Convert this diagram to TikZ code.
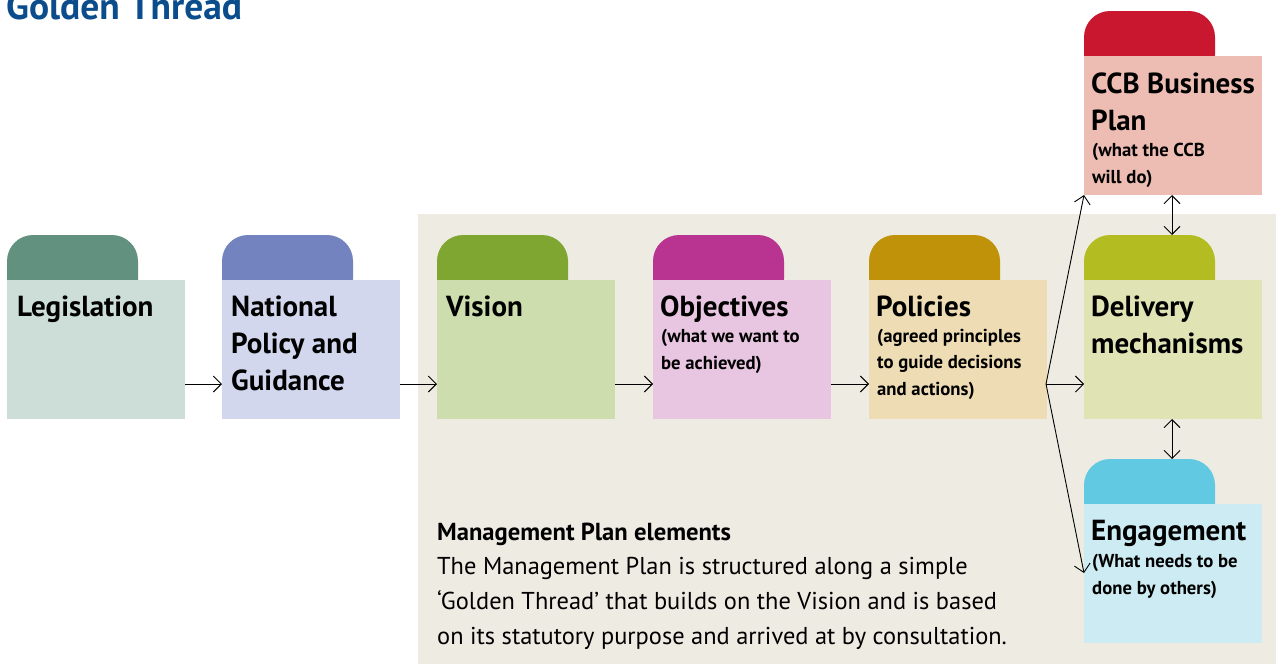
\documentclass[tikz,border=0pt]{standalone}
\usepackage{fontspec}
\setmainfont{PT Sans}
\usetikzlibrary{arrows.meta,calc}
\definecolor{bgpanel}{HTML}{EEEBE3}
\definecolor{titleblue}{HTML}{0B4D8C}
\definecolor{legT}{HTML}{62927F}\definecolor{legB}{HTML}{CDDED8}
\definecolor{natT}{HTML}{7283C0}\definecolor{natB}{HTML}{D3D7EE}
\definecolor{visT}{HTML}{7EA630}\definecolor{visB}{HTML}{CEDDAE}
\definecolor{objT}{HTML}{B93391}\definecolor{objB}{HTML}{E8C5E0}
\definecolor{polT}{HTML}{C09209}\definecolor{polB}{HTML}{EEDDB4}
\definecolor{delT}{HTML}{B3BC21}\definecolor{delB}{HTML}{E0E3B4}
\definecolor{ccbT}{HTML}{C8172F}\definecolor{ccbB}{HTML}{EDBDB3}
\definecolor{engT}{HTML}{62C9E2}\definecolor{engB}{HTML}{CCEBF2}
\tikzset{
  tabshape/.style={anchor=north west, minimum width=131pt, minimum height=70pt, rounded corners=26pt, inner sep=0pt, outer sep=0pt},
  bodyshape/.style={anchor=north west, minimum width=178pt, minimum height=139pt, inner sep=0pt, outer sep=0pt},
  bigtxt/.style={anchor=base west, align=left, inner sep=0pt, font=\fontsize{29}{37}\selectfont\bfseries},
  smalltxt/.style={anchor=base west, align=left, inner sep=0pt, font=\fontsize{18.7}{26.3}\selectfont\bfseries},
  arr/.style={-{Straight Barb[length=8pt,width=16pt]}, line width=0.9pt},
  darr/.style={{Straight Barb[length=8pt,width=16pt]}-{Straight Barb[length=8pt,width=16pt]}, line width=0.9pt},
}
\begin{document}
\begin{tikzpicture}[x=1pt,y=-1pt]
\useasboundingbox (0,0) rectangle (1276,664);
\fill[bgpanel] (418,214) rectangle (1276,664);
\node[anchor=base west, inner sep=0pt, text=titleblue, font=\fontsize{37.5}{37.5}\selectfont\bfseries] (title) at (6,19) {Golden Thread};

% tabs
\node[tabshape, fill=legT] (legtab) at (7,235) {};
\node[tabshape, fill=natT] (nattab) at (222,235) {};
\node[tabshape, fill=visT] (vistab) at (437,235) {};
\node[tabshape, fill=objT] (objtab) at (653,235) {};
\node[tabshape, fill=polT] (poltab) at (869,235) {};
\node[tabshape, fill=delT] (deltab) at (1084,235) {};
\node[tabshape, fill=ccbT] (ccbtab) at (1084,11) {};
\node[tabshape, fill=engT] (engtab) at (1084,459) {};
% bodies
\node[bodyshape, fill=legB] (leg) at (7,280) {};
\node[bodyshape, fill=natB] (nat) at (222,280) {};
\node[bodyshape, fill=visB] (vis) at (437,280) {};
\node[bodyshape, fill=objB] (obj) at (653,280) {};
\node[bodyshape, fill=polB] (pol) at (869,280) {};
\node[bodyshape, fill=delB] (del) at (1084,280) {};
\node[bodyshape, fill=ccbB] (ccb) at (1084,56) {};
\node[bodyshape, fill=engB] (eng) at (1084,504) {};

% texts (base anchor = baseline of the last line)
\node[bigtxt] (legtxt) at (17,316) {Legislation};
\node[bigtxt] (nattxt) at (231,390) {National\\Policy and\\Guidance};
\node[bigtxt] (vistxt) at (446,316) {Vision};
\node[bigtxt] (objtxt) at (660,316) {Objectives};
\node[smalltxt] (objsub) at (661,369) {(what we want to\\be achieved)};
\node[bigtxt] (poltxt) at (876,316) {Policies};
\node[smalltxt] (polsub) at (877,395) {(agreed principles\\to guide decisions\\and actions)};
\node[bigtxt] (deltxt) at (1091,353) {Delivery\\mechanisms};
\node[bigtxt] (ccbtxt) at (1091,130) {CCB Business\\Plan};
\node[smalltxt] (ccbsub) at (1092,183) {(what the CCB\\will do)};
\node[bigtxt] (engtxt) at (1091,540) {Engagement};
\node[smalltxt] (engsub) at (1092,594) {(What needs to be\\done by others)};

\node[anchor=base west, inner sep=0pt, font=\fontsize{24.6}{24.6}\selectfont\bfseries] (mphead) at (437,540) {Management Plan elements};
\node[anchor=base west, align=left, inner sep=0pt, font=\fontsize{24.4}{34.7}\selectfont] (mpbody) at (437,644) {The Management Plan is structured along a simple\\`Golden Thread' that builds on the Vision and is based\\on its statutory purpose and arrived at by consultation.};

% connectors
\coordinate (split) at (1046,384);
\draw[arr] (leg.east |- 0,384) -- (nat.west |- 0,384);
\draw[arr] (nat.east |- 0,384) -- (vis.west |- 0,384);
\draw[arr] (vis.east |- 0,384) -- (obj.west |- 0,384);
\draw[arr] (obj.east |- 0,384) -- (pol.west |- 0,384);
\draw[arr] (split) -- (del.west |- split);
\draw[arr] (split) -- (ccb.south west);
\draw[arr] (split) -- (1084,573);
\draw[darr] (ccb.south -| 1172,0) -- (deltab.north -| 1172,0);
\draw[darr] (del.south -| 1172,0) -- (engtab.north -| 1172,0);
\end{tikzpicture}
\end{document}
